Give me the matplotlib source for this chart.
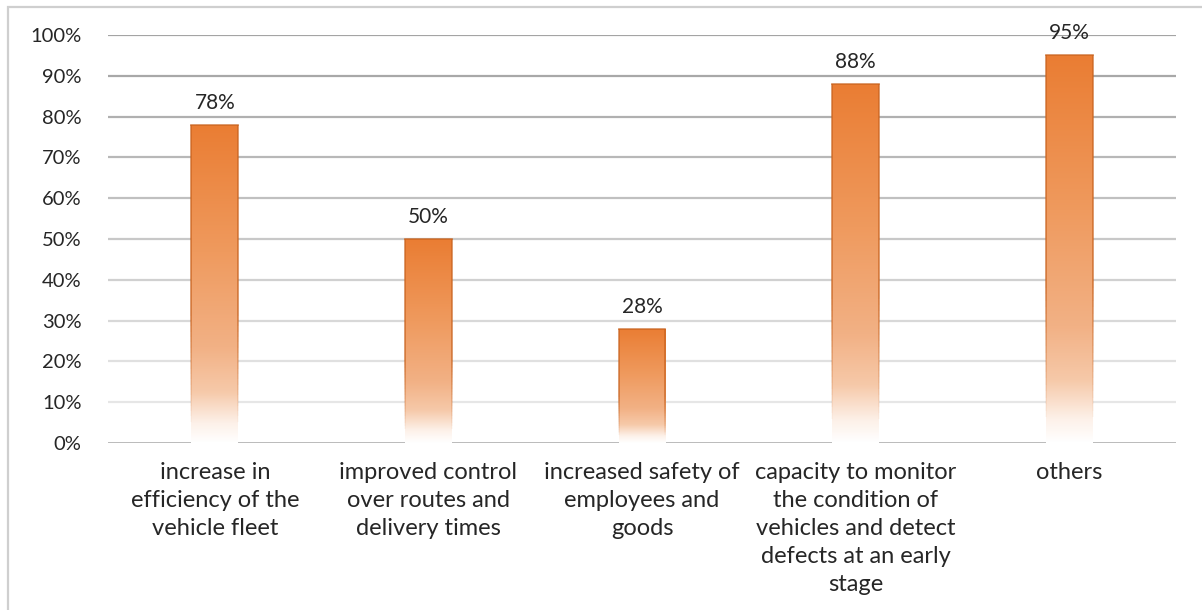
import numpy as np
import matplotlib
matplotlib.use("Agg")
import matplotlib.pyplot as plt
from matplotlib.colors import LinearSegmentedColormap, to_rgb
from matplotlib.collections import LineCollection
from matplotlib.patches import Rectangle

# Survey results: share of respondents per benefit
categories = [
    "increase in\nefficiency of the\nvehicle fleet",
    "improved control\nover routes and\ndelivery times",
    "increased safety of\nemployees and\ngoods",
    "capacity to monitor\nthe condition of\nvehicles and detect\ndefects at an early\nstage",
    "others",
]
values = [0.78, 0.50, 0.28, 0.88, 0.95]
y_ticks = [0.0, 0.1, 0.2, 0.3, 0.4, 0.5, 0.6, 0.7, 0.8, 0.9, 1.0]

plt.rcParams["font.family"] = ["Lato", "DejaVu Sans"]

fig = plt.figure(figsize=(12.02, 6.10), dpi=100)
ax = fig.add_axes([108 / 1202, 1 - 443 / 610, (1176 - 108) / 1202, (443 - 35) / 610])

# outer frame (only left and top edges are visible)
fig.patches.append(Rectangle((8 / 1202, -0.1), 1.2, 1 - 7 / 610 + 0.1,
                             transform=fig.transFigure, fill=False,
                             edgecolor="#cfcfcf", linewidth=1.6))

x = np.arange(len(categories))
bars = ax.bar(x, values, width=0.22, color="none", edgecolor="none", zorder=3)

ax.set_xlim(-0.5, len(categories) - 0.5)
ax.set_ylim(0, 1.0)

# gridlines, darker towards the top
grid_cols = ["#b4b4b4", "#e6e6e6", "#e0e0e0", "#d8d8d8", "#d0d0d0", "#c8c8c8",
             "#c0c0c0", "#b8b8b8", "#b0b0b0", "#a8a8a8", "#a4a4a4"]
for yv, c in zip(y_ticks, grid_cols):
    ax.axhline(yv, color=c, linewidth=2.0 if yv == 0 else 1.6, zorder=1)

for s in ax.spines.values():
    s.set_visible(False)

ax.set_yticks(y_ticks)
ax.set_yticklabels([f"{int(round(v * 100))}%" for v in y_ticks])
ax.set_xticks(x)
ax.set_xticklabels(categories, linespacing=1.41)
ax.tick_params(axis="y", length=0, pad=19, labelsize=14.5, labelcolor="#262626")
ax.tick_params(axis="x", length=0, pad=14, labelsize=17, labelcolor="#262626")

# orange gradient fading to white at the base of each bar
cmap = LinearSegmentedColormap.from_list(
    "bar_fade",
    [(0.0, "#ffffff"), (0.06, "#fdf1e9"), (0.16, "#f6c9a9"), (0.3, "#f2b185"),
     (0.6, "#ef9a5e"), (1.0, "#ea7d33")])
grad = np.linspace(0, 1, 256).reshape(-1, 1)
edge_rgb = to_rgb("#c8621e")

for rect, v in zip(bars, values):
    x0 = rect.get_x()
    w = rect.get_width()
    h = rect.get_height()
    im = ax.imshow(grad, cmap=cmap, aspect="auto", origin="lower",
                   extent=(x0, x0 + w, 0, h), zorder=3, interpolation="bilinear")
    im.set_clip_path(rect)

    # darker outline that fades out towards the bottom
    n = 60
    ys = np.linspace(0, h, n + 1)
    alphas = np.clip((ys[:-1] / h - 0.05) / 0.35, 0, 1) * 0.75
    for xe in (x0, x0 + w):
        segs = [[(xe, ys[i]), (xe, ys[i + 1])] for i in range(n)]
        cols = [(*edge_rgb, a) for a in alphas]
        ax.add_collection(LineCollection(segs, colors=cols, linewidths=1.2, zorder=4))
    ax.plot([x0, x0 + w], [h, h], color="#c8621e", alpha=0.75, linewidth=1.2, zorder=4)

    ax.text(rect.get_x() + w / 2, h + 0.03, f"{int(round(v * 100))}%",
            ha="center", va="bottom", fontsize=15, color="#262626", zorder=5)

fig.savefig("out.png", dpi=100, facecolor="white")
